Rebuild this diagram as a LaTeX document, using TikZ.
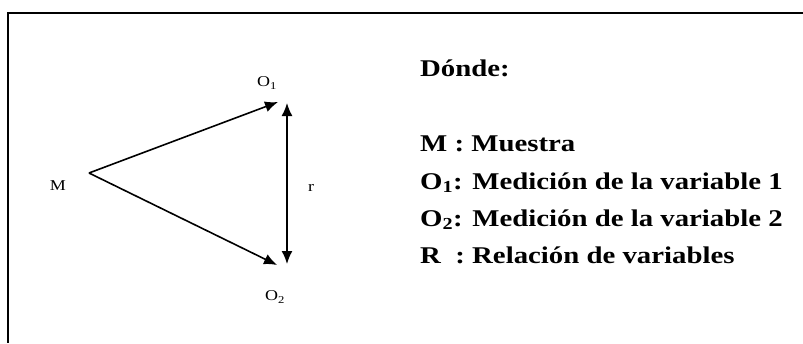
\documentclass[tikz,border=0pt]{standalone}
\usepackage{fontspec}
\setmainfont{Liberation Serif}[FakeStretch=1.2]
\usetikzlibrary{arrows.meta}

\begin{document}
\begin{tikzpicture}[x=1pt, y=-1pt,
    lbl/.style = {inner sep=0pt, font=\fontsize{15}{17}\selectfont},
    item/.style = {anchor=base west, inner sep=0pt, font=\fontsize{24}{28}\selectfont\bfseries},
    arr/.style = {line width=1.6pt, -{Latex[length=13pt,width=11pt]}}]
    \useasboundingbox (0,0) rectangle (803,343);
    \draw[line width=1.5pt] (803,13) -- (8,13) -- (8,343);
    \node[lbl](M) at (58,186){M};
    \node[lbl](O1) at (267,83){O\textsubscript{1}};
    \node[lbl](O2) at (275,297){O\textsubscript{2}};
    \node[lbl](r) at (311,188){r};
    \coordinate (apex) at (89,173);
    \coordinate (tip1) at (278,102);
    \coordinate (tip2) at (277,265);
    \coordinate (rtop) at (287,103);
    \coordinate (rbot) at (287,264);
    \draw[arr] (apex) -- (tip1);
    \draw[arr] (apex) -- (tip2);
    \draw[arr, {Latex[length=13pt,width=11pt]}-{Latex[length=13pt,width=11pt]}] (rbot) -- (rtop);
    \node[item](head) at (420,76){Dónde:};
    \node[item](i1) at (420,151){M : Muestra};
    \node[item](i2) at (420,189){O\textsubscript{1}: Medición de la variable 1};
    \node[item](i3) at (420,226){O\textsubscript{2}: Medición de la variable 2};
    \node[item](i4) at (420,263){R\ \ : Relación de variables};
\end{tikzpicture}
\end{document}
